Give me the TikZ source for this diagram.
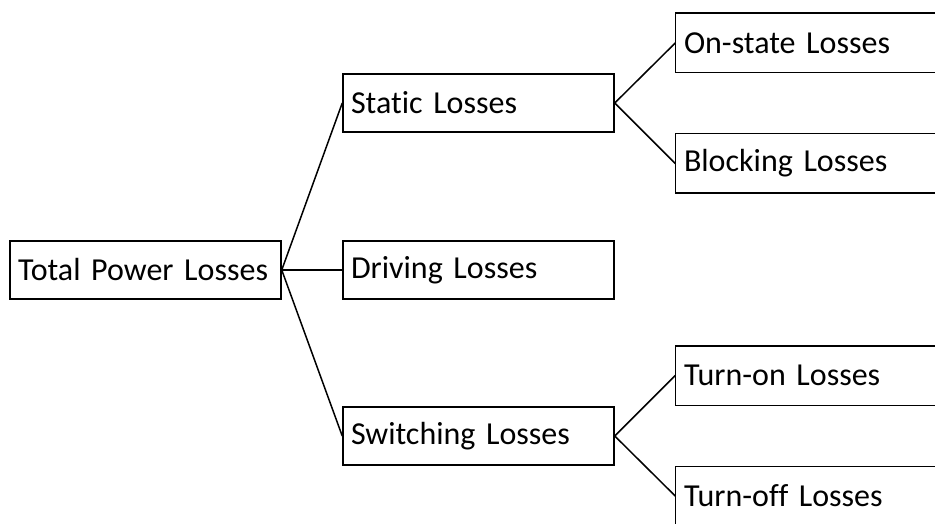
\documentclass[tikz,border=0pt]{standalone}
\usepackage{fontspec}
\setmainfont{Carlito}[Ligatures=NoCommon, WordSpace=0.85]
\begin{document}
\begin{tikzpicture}[
    x=1pt, y=1pt,
    box/.style={draw=black, line width=1.5pt, rectangle,
                minimum width=271pt, minimum height=58pt,
                text width=255pt, inner xsep=8pt, align=left,
                font=\fontsize{32}{38}\selectfont},
    leaf/.style={box, draw=none, minimum width=320pt, text width=304pt},
    link/.style={line width=1.5pt, black},
]
\def\w{320}

\useasboundingbox (0,0) rectangle (935,523);

% Root
\node[box] (total) at (145.5, 253) {Total Power Losses};

% Middle column
\node[box] (static) at (478.5, 420) {Static Losses};
\node[box] (driving) at (478.5, 253) {Driving Losses};
\node[box] (switching) at (478.5, 87) {Switching Losses};

% Right column (boxes run off the page edge, so no right side)
\node[leaf] (onstate) at (676+\w/2, 480) {On-state Losses};
\node[leaf] (blocking) at (676+\w/2, 359.5) {Blocking Losses};
\node[leaf] (turnon) at (676+\w/2, 147.5) {Turn-on Losses};
\node[leaf] (turnoff) at (676+\w/2, 27) {Turn-off Losses};
\foreach \n in {onstate, blocking, turnon, turnoff}
  \draw[link] (\n.north east) -- (\n.north west) -- (\n.south west) -- (\n.south east);

% Connectors
\draw[link] (total.east) -- (static.west);
\draw[link] (total.east) -- (driving.west);
\draw[link] (total.east) -- (switching.west);
\draw[link] (static.east) -- (onstate.west);
\draw[link] (static.east) -- (blocking.west);
\draw[link] (switching.east) -- (turnon.west);
\draw[link] (switching.east) -- (turnoff.west);

\end{tikzpicture}
\end{document}
